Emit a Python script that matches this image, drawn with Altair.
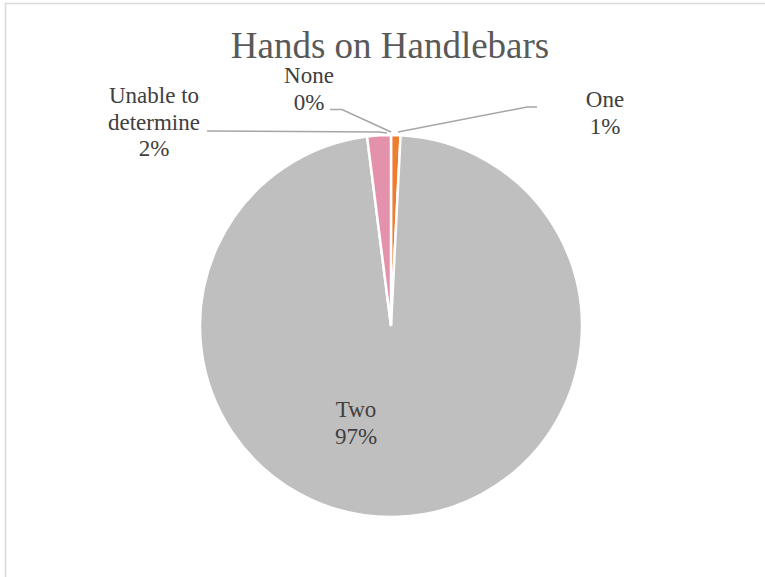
import altair as alt
import pandas as pd

# ---- data ----
categories = ["None", "One", "Two", "Unable to determine"]
shares = [0.0, 0.8, 97.2, 2.0]
chart_title = "Hands on Handlebars"

# ---- styles / layout ----
slice_colors = ["#4472C4", "#ED7D31", "#BFBFBF", "#E491AC"]
W, H = 765, 577
CX, CY, R = 391, 326, 191
SERIF = "Liberation Serif"
LINE_H = 26.5
label_anchor = {
    "None": (309, 83),
    "One": (605, 107),
    "Two": (356, 417),
    "Unable to determine": (154, 103),
}
label_wrap = {"Unable to determine": ["Unable to", "determine"]}
leaders = {
    "None": [(330, 109.5), (342, 109.5), (391, 132)],
    "One": [(537, 107), (527, 107), (398, 132)],
    "Unable to determine": [(207, 131), (379, 132), (387, 133)],
}

pie_df = pd.DataFrame({"category": categories, "share": shares,
                       "order": list(range(len(categories)))})

label_rows = []
for c, s in zip(categories, shares):
    x0, y0 = label_anchor[c]
    lines = label_wrap.get(c, [c]) + [f"{round(s):.0f}%"]
    for i, t in enumerate(lines):
        label_rows.append({"category": c, "text": t, "px": x0, "py": y0 + i * LINE_H})
label_df = pd.DataFrame(label_rows)

leader_rows = []
for c, pts in leaders.items():
    for i, (px, py) in enumerate(pts):
        leader_rows.append({"category": c, "i": i, "px": px, "py": py})
leader_df = pd.DataFrame(leader_rows)

xs = alt.Scale(domain=[0, W], range=[0, W])
ys = alt.Scale(domain=[0, H], range=[0, H])

border = alt.Chart(pd.DataFrame({"a": [0]})).mark_rect(
    fill="white", stroke="#D9D9D9", strokeWidth=1.5
).encode(x=alt.value(5.5), x2=alt.value(W + 3), y=alt.value(3.5), y2=alt.value(H + 3))

pie = alt.Chart(pie_df).mark_arc(outerRadius=R, stroke="white", strokeWidth=2.5).encode(
    theta=alt.Theta("share:Q", stack=True),
    color=alt.Color("category:N", scale=alt.Scale(domain=categories, range=slice_colors), legend=None),
    order=alt.Order("order:Q"),
    x=alt.value(CX),
    y=alt.value(CY),
)

lead = alt.Chart(leader_df).mark_line(color="#A6A6A6", strokeWidth=1.5).encode(
    x=alt.X("px:Q", scale=xs, axis=None),
    y=alt.Y("py:Q", scale=ys, axis=None),
    detail="category:N",
    order="i:Q",
)

labels = alt.Chart(label_df).mark_text(
    font=SERIF, fontSize=23, color="#404040", baseline="alphabetic", align="center"
).encode(
    x=alt.X("px:Q", scale=xs, axis=None),
    y=alt.Y("py:Q", scale=ys, axis=None),
    text="text:N",
)

title = alt.Chart(pd.DataFrame({"t": [chart_title]})).mark_text(
    font=SERIF, fontSize=37, color="#595959", baseline="alphabetic", align="center"
).encode(text="t:N", x=alt.value(390), y=alt.value(58))

chart = alt.layer(border, pie, lead, labels, title).properties(
    width=W, height=H, autosize=alt.AutoSizeParams(type="none"), padding=0,
    background="white",
).configure_view(stroke=None).configure_text(font=SERIF)

chart.save("out.html", embed_options={"renderer": "svg", "actions": False})
